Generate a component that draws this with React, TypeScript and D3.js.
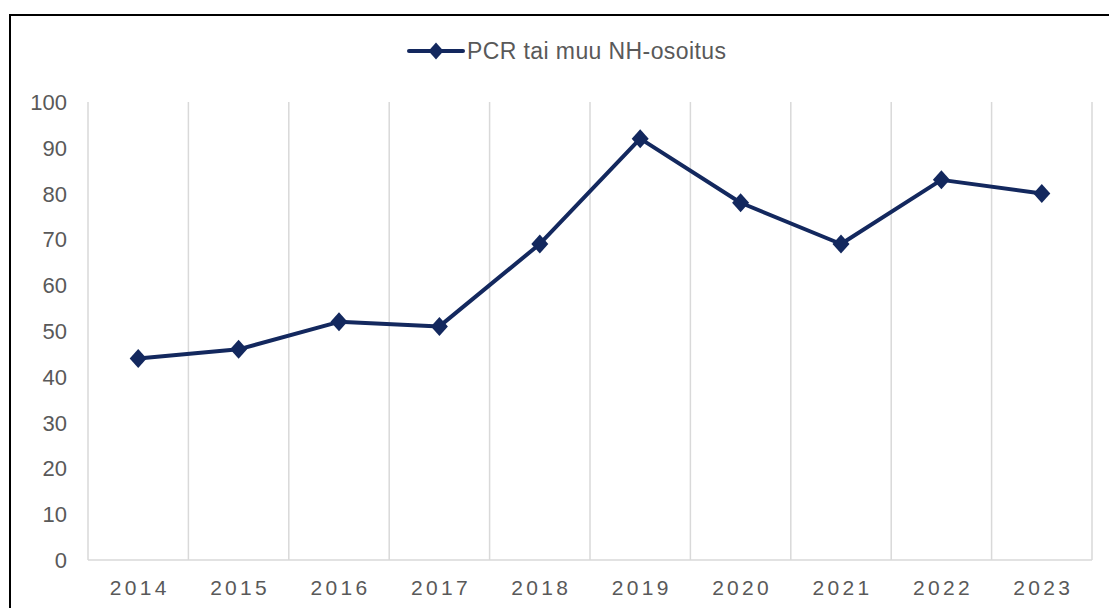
import * as d3 from 'd3'

const years = ['2014', '2015', '2016', '2017', '2018', '2019', '2020', '2021', '2022', '2023']
const pcrValues = [44, 46, 52, 51, 69, 92, 78, 69, 83, 80]
const yTicks = [0, 10, 20, 30, 40, 50, 60, 70, 80, 90, 100]
const seriesName = 'PCR tai muu NH-osoitus'

const W = 1109
const H = 608
const plot = { left: 88, right: 1092, top: 102, bottom: 560 }
const navy = '#13285e'
const textColor = '#595959'
const gridColor = '#d9d9d9'
const font = 'Arial, "Liberation Sans", sans-serif'

function diamond(cx: number, cy: number, rx: number, ry: number) {
  return `M${cx},${cy - ry}L${cx + rx},${cy}L${cx},${cy + ry}L${cx - rx},${cy}Z`
}

export default function App() {
  const x = d3.scaleBand<string>().domain(years).range([plot.left, plot.right])
  const y = d3.scaleLinear().domain([0, 100]).range([plot.bottom, plot.top])

  const pts = years.map((yr, i) => ({ yr, v: pcrValues[i] }))
  const line = d3.line<{ yr: string; v: number }>()
    .x((d) => x(d.yr)! + x.bandwidth() / 2)
    .y((d) => y(d.v))

  const bounds = [...years.map((yr) => x(yr)!), plot.right]

  return (
    <div style={{ position: 'absolute', left: 0, top: 0 }}>
      <svg width={W} height={H} style={{ display: 'block' }} fontFamily={font}>
        <rect x={0} y={0} width={W} height={H} fill="#fff" />
        {/* outer frame, runs off the right and bottom */}
        <rect x={10} y={15} width={W + 20} height={H + 20} fill="none" stroke="#000" strokeWidth={2} />

        {/* vertical category gridlines */}
        {bounds.map((bx, i) => (
          <line key={i} x1={bx} x2={bx} y1={plot.top} y2={plot.bottom} stroke={gridColor} strokeWidth={1.5} />
        ))}
        <line x1={plot.left} x2={plot.right} y1={plot.bottom} y2={plot.bottom} stroke={gridColor} strokeWidth={1.5} />

        {/* y labels */}
        {yTicks.map((t) => (
          <text key={t} x={67} y={y(t)} dy="0.36em" textAnchor="end" fontSize={22} fill={textColor}>
            {t}
          </text>
        ))}

        {/* x labels */}
        {years.map((yr) => (
          <text
            key={yr}
            x={x(yr)! + x.bandwidth() / 2 + 1.5}
            y={594.5}
            textAnchor="middle"
            fontSize={21}
            letterSpacing={3.3}
            fill={textColor}
          >
            {yr}
          </text>
        ))}

        {/* series */}
        <path d={line(pts)!} fill="none" stroke={navy} strokeWidth={4} strokeLinejoin="round" />
        {pts.map((d) => (
          <path key={d.yr} d={diamond(x(d.yr)! + x.bandwidth() / 2, y(d.v), 8.5, 9.5)} fill={navy} />
        ))}

        {/* legend */}
        <line x1={409} x2={463} y1={51} y2={51} stroke={navy} strokeWidth={4} strokeLinecap="round" />
        <path d={diamond(436, 51, 7.5, 8.5)} fill={navy} />
        <text x={467} y={59} fontSize={23} letterSpacing={0.4} fill={textColor}>
          {seriesName}
        </text>
      </svg>
    </div>
  )
}
